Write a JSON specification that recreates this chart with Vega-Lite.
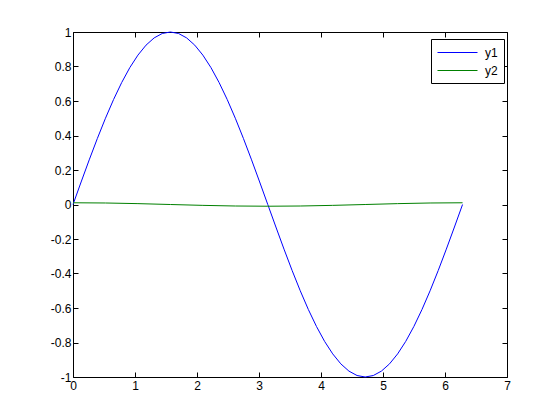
{
  "$schema": "https://vega.github.io/schema/vega-lite/v6.json",
  "width": 434,
  "height": 345,
  "autosize": {"type": "none"},
  "padding": {"left": 73, "top": 32, "right": 53, "bottom": 43},
  "background": "white",
  "config": {
    "font": "Liberation Sans",
    "view": {"stroke": "black", "strokeWidth": 1},
    "axis": {"domain": false, "grid": false, "tickColor": "black", "tickSize": -5, "labelColor": "black", "labelFontSize": 12, "labelFont": "Liberation Sans", "title": null, "labelFlush": false, "labelOverlap": false}
  },
  "data": {"values": [
    {"x":0,"y":0,"s":"y1"},{"x":0.1309,"y":0.1305,"s":"y1"},{"x":0.2618,"y":0.2588,"s":"y1"},{"x":0.3927,"y":0.3827,"s":"y1"},{"x":0.5236,"y":0.5,"s":"y1"},{"x":0.6545,"y":0.6088,"s":"y1"},{"x":0.7854,"y":0.7071,"s":"y1"},{"x":0.9163,"y":0.7934,"s":"y1"},{"x":1.0472,"y":0.866,"s":"y1"},{"x":1.1781,"y":0.9239,"s":"y1"},{"x":1.309,"y":0.9659,"s":"y1"},{"x":1.4399,"y":0.9914,"s":"y1"},{"x":1.5708,"y":1,"s":"y1"},{"x":1.7017,"y":0.9914,"s":"y1"},{"x":1.8326,"y":0.9659,"s":"y1"},{"x":1.9635,"y":0.9239,"s":"y1"},{"x":2.0944,"y":0.866,"s":"y1"},{"x":2.2253,"y":0.7934,"s":"y1"},{"x":2.3562,"y":0.7071,"s":"y1"},{"x":2.4871,"y":0.6088,"s":"y1"},{"x":2.618,"y":0.5,"s":"y1"},{"x":2.7489,"y":0.3827,"s":"y1"},{"x":2.8798,"y":0.2588,"s":"y1"},{"x":3.0107,"y":0.1305,"s":"y1"},{"x":3.1416,"y":0,"s":"y1"},{"x":3.2725,"y":-0.1305,"s":"y1"},{"x":3.4034,"y":-0.2588,"s":"y1"},{"x":3.5343,"y":-0.3827,"s":"y1"},{"x":3.6652,"y":-0.5,"s":"y1"},{"x":3.7961,"y":-0.6088,"s":"y1"},{"x":3.927,"y":-0.7071,"s":"y1"},{"x":4.0579,"y":-0.7934,"s":"y1"},{"x":4.1888,"y":-0.866,"s":"y1"},{"x":4.3197,"y":-0.9239,"s":"y1"},{"x":4.4506,"y":-0.9659,"s":"y1"},{"x":4.5815,"y":-0.9914,"s":"y1"},{"x":4.7124,"y":-1,"s":"y1"},{"x":4.8433,"y":-0.9914,"s":"y1"},{"x":4.9742,"y":-0.9659,"s":"y1"},{"x":5.1051,"y":-0.9239,"s":"y1"},{"x":5.236,"y":-0.866,"s":"y1"},{"x":5.3669,"y":-0.7934,"s":"y1"},{"x":5.4978,"y":-0.7071,"s":"y1"},{"x":5.6287,"y":-0.6088,"s":"y1"},{"x":5.7596,"y":-0.5,"s":"y1"},{"x":5.8905,"y":-0.3827,"s":"y1"},{"x":6.0214,"y":-0.2588,"s":"y1"},{"x":6.1523,"y":-0.1305,"s":"y1"},{"x":6.2832,"y":0,"s":"y1"},
    {"x":0,"y":0.01,"s":"y2"},{"x":0.5236,"y":0.0087,"s":"y2"},{"x":1.0472,"y":0.005,"s":"y2"},{"x":1.5708,"y":0,"s":"y2"},{"x":2.0944,"y":-0.005,"s":"y2"},{"x":2.618,"y":-0.0087,"s":"y2"},{"x":3.1416,"y":-0.01,"s":"y2"},{"x":3.6652,"y":-0.0087,"s":"y2"},{"x":4.1888,"y":-0.005,"s":"y2"},{"x":4.7124,"y":0,"s":"y2"},{"x":5.236,"y":0.005,"s":"y2"},{"x":5.7596,"y":0.0087,"s":"y2"},{"x":6.2832,"y":0.01,"s":"y2"}
  ]},
  "layer": [
    {
      "mark": {"type": "line", "strokeWidth": 1, "interpolate": "linear"},
      "encoding": {
        "x": {"field": "x", "type": "quantitative", "scale": {"domain": [0, 7], "nice": false, "zero": false}, "axis": {"orient": "bottom", "values": [0,1,2,3,4,5,6,7], "labelPadding": 8, "labelExpr": "'' + datum.value"}},
        "y": {"field": "y", "type": "quantitative", "scale": {"domain": [-1, 1], "nice": false}, "axis": {"orient": "left", "values": [-1,-0.8,-0.6,-0.4,-0.2,0,0.2,0.4,0.6,0.8,1], "labelPadding": 7, "labelExpr": "'' + datum.value"}},
        "color": {"field": "s", "type": "nominal", "scale": {"domain": ["y1", "y2"], "range": ["#0000ff", "#008000"]},
          "legend": {"orient": "none", "legendX": 358, "legendY": 7, "title": null, "symbolType": "M-3,0H3", "symbolSize": 178, "symbolStrokeWidth": 1, "symbolOffset": 13, "strokeColor": "black", "fillColor": "white", "padding": 6, "labelFontSize": 12, "labelColor": "black", "rowPadding": 4, "labelOffset": 20}}
      }
    },
    {
      "mark": {"type": "line", "opacity": 0},
      "encoding": {
        "x": {"field": "x", "type": "quantitative", "axis": {"orient": "top", "values": [0,1,2,3,4,5,6,7], "labels": false}},
        "y": {"field": "y", "type": "quantitative", "axis": {"orient": "right", "values": [-1,-0.8,-0.6,-0.4,-0.2,0,0.2,0.4,0.6,0.8,1], "labels": false}},
        "detail": {"field": "s"}
      }
    }
  ],
  "resolve": {"axis": {"x": "independent", "y": "independent"}}
}
